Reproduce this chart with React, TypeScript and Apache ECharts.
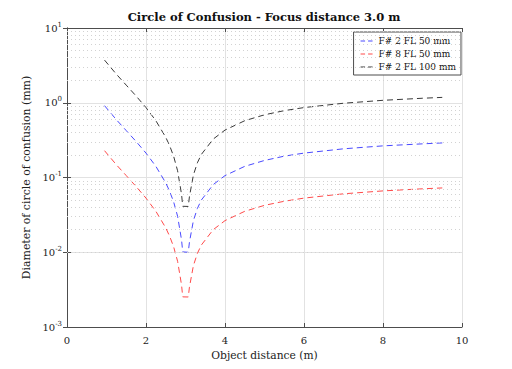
import React, { useEffect, useRef } from "react";
import * as echarts from "echarts";

const distances = [0.95, 1.25, 1.5, 1.75, 2, 2.25, 2.5, 2.6, 2.7, 2.8, 2.9, 2.93, 3.07, 3.1, 3.2, 3.3, 3.4, 3.7, 4, 4.5, 5, 5.5, 6, 7, 8, 9, 9.5];
const blueF2FL50 = [0.914, 0.593, 0.424, 0.303, 0.212, 0.141, 0.0847, 0.0652, 0.0471, 0.0303, 0.0146, 0.0101, 0.0100, 0.0137, 0.0265, 0.0385, 0.0498, 0.0802, 0.106, 0.141, 0.169, 0.193, 0.212, 0.242, 0.265, 0.282, 0.290];
const redF8FL50 = [0.2285, 0.148, 0.106, 0.0756, 0.0530, 0.0353, 0.0212, 0.0163, 0.0118, 0.00757, 0.00365, 0.00253, 0.00252, 0.00342, 0.00662, 0.00963, 0.01246, 0.0200, 0.0265, 0.0353, 0.0424, 0.0481, 0.0530, 0.0605, 0.0662, 0.0706, 0.0725];
const blackF2FL100 = [3.72, 2.41, 1.72, 1.23, 0.862, 0.575, 0.345, 0.265, 0.192, 0.123, 0.0595, 0.0412, 0.0410, 0.0556, 0.108, 0.157, 0.203, 0.326, 0.431, 0.575, 0.690, 0.784, 0.862, 0.985, 1.078, 1.149, 1.180];

const seriesNames = ["F# 2 FL 50 mm", "F# 8 FL 50 mm", "F# 2 FL 100 mm"];
const seriesColors = ["#4a4aff", "#ff4a4a", "#3a3a3a"];
const yExponents = [-3, -2, -1, 0, 1];
const xTicks = [0, 2, 4, 6, 8, 10];

const FONT = "'DejaVu Serif', 'Liberation Serif', serif";
const DASH_ICON = "path://M0,0H4.5V1H0Z M7.5,0H12V1H7.5Z";

export default function App() {
  const ref = useRef<HTMLDivElement>(null);
  useEffect(() => {
    if (!ref.current) return;
    const chart = echarts.init(ref.current, null, { renderer: "svg" });
    const minor: number[] = [];
    for (let d = yExponents[0]; d < yExponents[yExponents.length - 1]; d++) {
      for (let k = 2; k <= 9; k++) minor.push(k * Math.pow(10, d));
    }
    const seriesData = [blueF2FL50, redF8FL50, blackF2FL100];
    const rich = {
      b: { fontFamily: FONT, fontSize: 10, color: "#222" },
      s: { fontFamily: FONT, fontSize: 7, color: "#222", verticalAlign: "bottom", padding: [0, 0, 7, 0] },
    };
    const axisLineStyle = { color: "#4d4d4d", width: 1 };
    const option: any = {
      animation: false,
      backgroundColor: "#fff",
      grid: { left: 67, right: 50, top: 28, bottom: 42, containLabel: false },
      graphic: [
        {
          type: "text",
          x: 264,
          y: 17,
          style: {
            text: "Circle of Confusion - Focus distance 3.0 m",
            font: `bold 11.5px ${FONT}`,
            fill: "#111",
            textAlign: "center",
            textVerticalAlign: "middle",
          },
        },
      ],
      legend: {
        orient: "vertical",
        right: 51,
        top: 32,
        data: seriesNames.map((n, i) => ({ name: n, icon: DASH_ICON, itemStyle: { color: seriesColors[i] } })),
        itemWidth: 12,
        itemHeight: 1,
        itemGap: 3,
        padding: [4, 5, 3, 7],
        backgroundColor: "#fff",
        borderColor: "#4d4d4d",
        borderWidth: 1,
        borderRadius: 0,
        textStyle: { fontFamily: FONT, fontSize: 9, color: "#111", padding: [0, 0, 0, 1], lineHeight: 10 },
      },
      xAxis: [
        {
          type: "value",
          min: 0,
          max: 10,
          interval: 2,
          name: "Object distance (m)",
          nameLocation: "middle",
          nameGap: 20,
          nameTextStyle: { fontFamily: FONT, fontSize: 10.7, color: "#222" },
          axisLine: { show: true, lineStyle: axisLineStyle },
          axisTick: { show: true, inside: true, length: 4, lineStyle: axisLineStyle },
          axisLabel: { fontFamily: FONT, fontSize: 10, color: "#222", margin: 8, formatter: (v: number) => (xTicks.includes(v) ? String(v) : "") },
          splitLine: { show: true, lineStyle: { color: "#e2e2e2", width: 1 } },
        },
        {
          type: "value",
          position: "top",
          min: 0,
          max: 10,
          interval: 2,
          axisLine: { show: true, lineStyle: axisLineStyle },
          axisTick: { show: true, inside: true, length: 4, lineStyle: axisLineStyle },
          axisLabel: { show: false },
          splitLine: { show: false },
        },
      ],
      yAxis: [
        {
          type: "log",
          logBase: 10,
          min: 0.001,
          max: 10,
          name: "Diameter of circle of confusion (mm)",
          nameLocation: "middle",
          nameGap: 31,
          nameTextStyle: { fontFamily: FONT, fontSize: 10.9, color: "#222" },
          axisLine: { show: true, lineStyle: axisLineStyle },
          axisTick: { show: true, inside: true, length: 4, lineStyle: axisLineStyle },
          axisLabel: {
            margin: 5,
            rich,
            formatter: (v: number) => {
              const e = Math.round(Math.log10(v));
              return `{b|10}{s|${e}}`;
            },
          },
          splitLine: { show: true, lineStyle: { color: "#e2e2e2", width: 1 } },
        },
        {
          type: "log",
          logBase: 10,
          min: 0.001,
          max: 10,
          position: "right",
          axisLine: { show: true, lineStyle: axisLineStyle },
          axisTick: { show: true, inside: true, length: 4, lineStyle: axisLineStyle },
          axisLabel: { show: false },
          splitLine: { show: false },
        },
      ],
      series: [
        {
          type: "line",
          name: "minor-grid",
          data: [],
          silent: true,
          markLine: {
            silent: true,
            symbol: ["none", "none"],
            label: { show: false },
            lineStyle: { type: [1, 3], color: "#d2d2d2", width: 1 },
            data: minor.map((v) => ({ yAxis: v })),
          },
        },
        ...seriesNames.map((name, i) => ({
          type: "line",
          name,
          data: distances.map((x, j) => [x, seriesData[i][j]]),
          symbol: "none",
          showSymbol: false,
          smooth: false,
          color: seriesColors[i],
          lineStyle: { color: seriesColors[i], width: 1, type: [6, 4] },
          z: 3,
        })),
      ],
    };
    chart.setOption(option);
    return () => chart.dispose();
  }, []);
  return <div ref={ref} style={{ position: "fixed", left: 0, top: 0, width: 512, height: 369 }} />;
}
